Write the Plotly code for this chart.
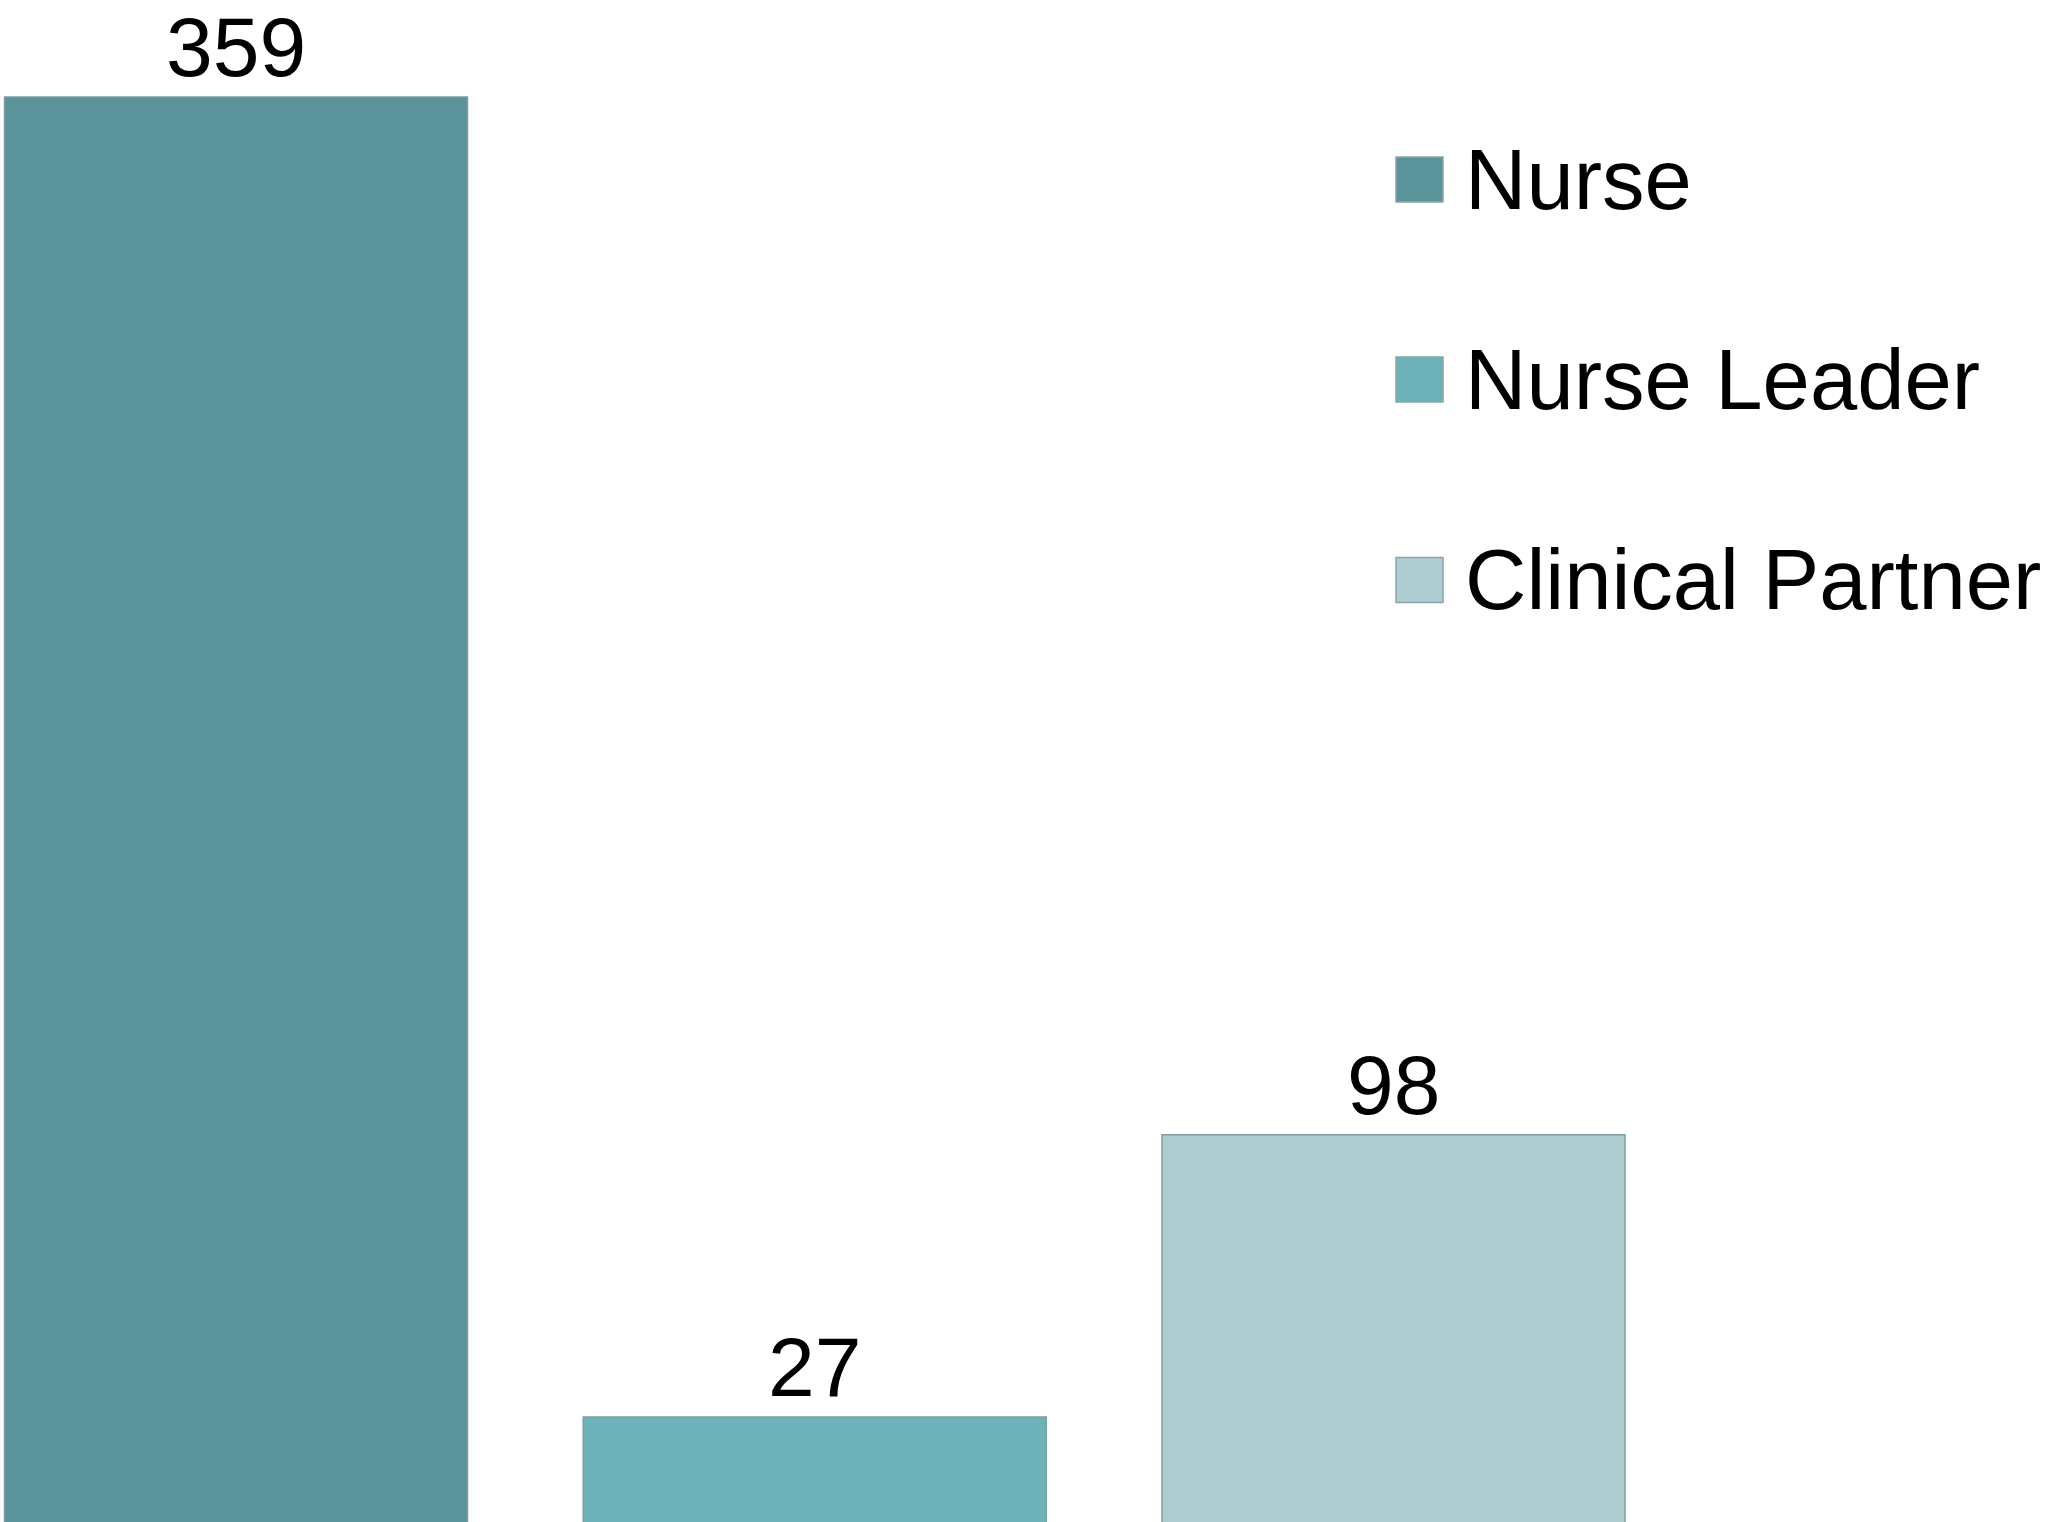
import plotly.graph_objects as go

categories = ["Nurse", "Nurse Leader", "Clinical Partner"]
values = [359, 27, 98]
colors = ["#5A939A", "#6DB2B9", "#AFCDD1"]
legend_colors = ["#5A939A", "#6DB2B9", "#AFCDD1"]

W, H = 2046, 1522
FONT = "Liberation Sans, Arial"
fig = go.Figure()
for i, (cat, val, col) in enumerate(zip(categories, values, colors)):
    fig.add_trace(go.Bar(
        x=[i], y=[val], name=cat, width=0.8,
        marker=dict(color=col, line=dict(color="#7F9EA2", width=1.5)),
        showlegend=False, cliponaxis=False,
    ))
    fig.add_annotation(x=i, y=val, xref="x", yref="y", text=str(val),
                       showarrow=False, yanchor="bottom", yshift=2, borderpad=0,
                       font=dict(size=84, color="#000000", family=FONT))

# custom legend (large square symbols)
leg_y = [179.5, 379.5, 580]
for cat, col, py in zip(categories, legend_colors, leg_y):
    fig.add_shape(type="rect", xref="paper", yref="paper",
                  x0=1396 / W, x1=1443 / W, y0=1 - (py + 22.5) / H, y1=1 - (py - 22.5) / H,
                  fillcolor=col, line=dict(color="#8AA5A8", width=1.5))
    fig.add_annotation(x=1463 / W, y=1 - py / H, xref="paper", yref="paper",
                       text=cat, showarrow=False, xanchor="left", yanchor="middle",
                       font=dict(size=85, color="#000000", family=FONT))

fig.update_layout(
    width=W, height=H,
    margin=dict(l=0, r=0, t=0, b=0),
    paper_bgcolor="white", plot_bgcolor="white",
    xaxis=dict(range=[-0.4078, 3.1275], visible=False, fixedrange=True),
    yaxis=dict(range=[0.6, 383.4], visible=False, fixedrange=True),
    bargap=0.2,
)
fig.write_html("out.html", config={"displayModeBar": False},
               post_script="document.body.style.margin='0';document.body.style.overflow='hidden';")
